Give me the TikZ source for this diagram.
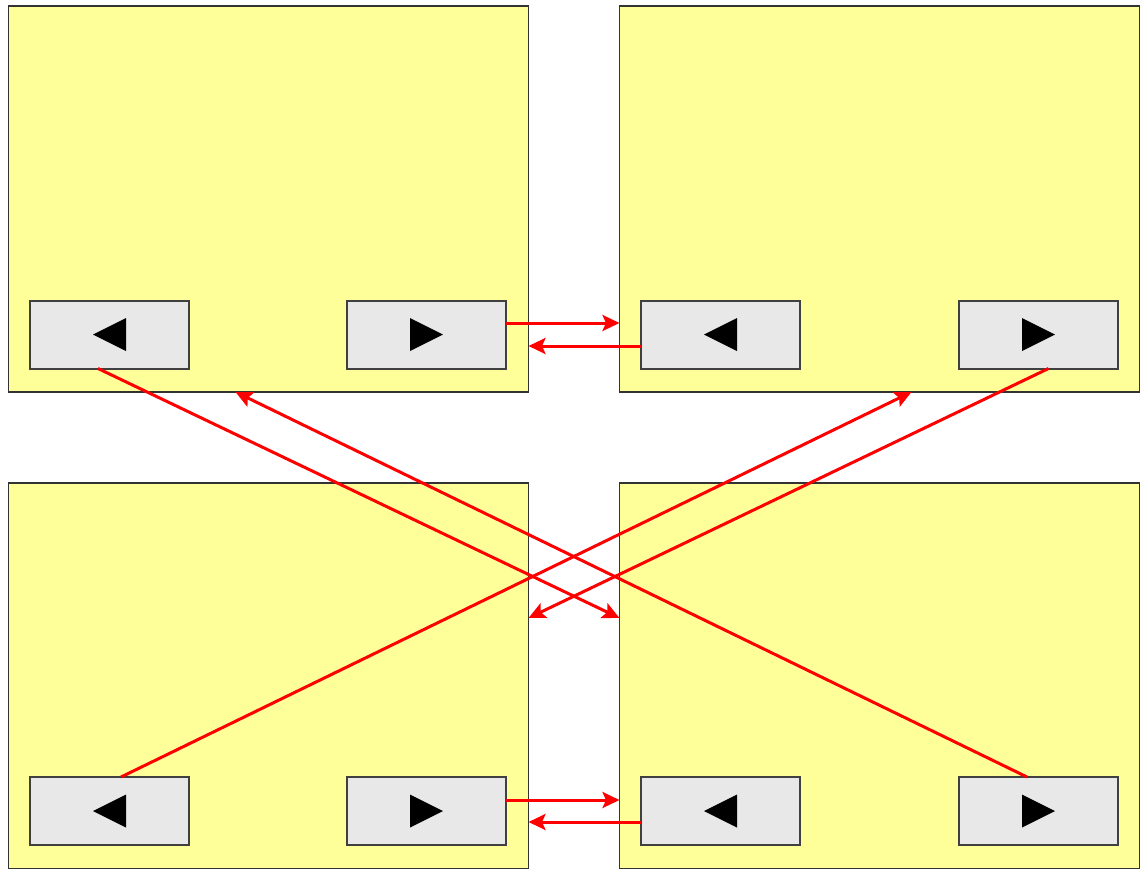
\documentclass[tikz,border=0pt]{standalone}
\usetikzlibrary{arrows.meta}
\begin{document}
\begin{tikzpicture}[x=1pt,y=-1pt,
  panel/.style={draw=black!80,line width=1.7pt,fill={rgb,255:red,255;green,255;blue,153},
    minimum width=520pt,minimum height=386pt,inner sep=0pt,outer sep=0pt},
  navbtn/.style={draw=black!75,line width=2pt,fill={rgb,255:red,232;green,232;blue,232},
    minimum width=159pt,minimum height=68pt,inner sep=0pt,outer sep=0pt},
  link/.style={draw=red,line width=3pt,-{Stealth[length=17pt,width=16pt,inset=3.5pt]}}]
  \useasboundingbox (0,0) rectangle (1140,868);
  \fill[white] (0,0) rectangle (1140,868);

  % four screens
  \node[panel] (tlP) at (268.5,199) {};
  \node[panel] (trP) at (879.5,199) {};
  \node[panel] (blP) at (268.5,676) {};
  \node[panel] (brP) at (879.5,676) {};

  % previous / next buttons
  \node[navbtn] (tlL) at (109.5,334.5) {};
  \node[navbtn] (tlR) at (426.5,334.5) {};
  \node[navbtn] (trL) at (720.5,334.5) {};
  \node[navbtn] (trR) at (1038.5,334.5) {};
  \node[navbtn] (blL) at (109.5,811) {};
  \node[navbtn] (blR) at (426.5,811) {};
  \node[navbtn] (brL) at (720.5,811) {};
  \node[navbtn] (brR) at (1038.5,811) {};

  % button glyphs
  \foreach \b in {tlL,trL,blL,brL}
    \fill[black] ([xshift=-16.5pt]\b.center) -- ([xshift=16.5pt,yshift=16.5pt]\b.center)
      -- ([xshift=16.5pt,yshift=-16.5pt]\b.center) -- cycle;
  \foreach \b in {tlR,trR,blR,brR}
    \fill[black] ([xshift=16.5pt]\b.center) -- ([xshift=-16.5pt,yshift=16.5pt]\b.center)
      -- ([xshift=-16.5pt,yshift=-16.5pt]\b.center) -- cycle;

  % horizontal links, top row
  \coordinate (t1) at ([yshift=11.5pt]tlR.east);
  \coordinate (t2) at ([yshift=-11.5pt]trL.west);
  \draw[link] (t1) -- (t1 -| trP.west);
  \draw[link] (t2) -- (t2 -| tlP.east);

  % horizontal links, bottom row
  \coordinate (b1) at ([yshift=11pt]blR.east);
  \coordinate (b2) at ([yshift=-11pt]brL.west);
  \draw[link] (b1) -- (b1 -| brP.west);
  \draw[link] (b2) -- (b2 -| blP.east);

  % diagonal links
  \coordinate (d1s) at ([xshift=-11.5pt]tlL.south);
  \coordinate (d1e) at ([yshift=58pt]brP.west);
  \draw[link] (d1s) -- (d1e);

  \coordinate (d2s) at ([xshift=-11.5pt]brR.north);
  \coordinate (d2e) at ([xshift=-33pt]tlP.south);
  \draw[link] (d2s) -- (d2e);

  \coordinate (d3s) at ([xshift=11.5pt]blL.north);
  \coordinate (d3e) at ([xshift=32pt]trP.south);
  \draw[link] (d3s) -- (d3e);

  \coordinate (d4s) at ([xshift=10pt]trR.south);
  \coordinate (d4e) at ([yshift=58pt]blP.east);
  \draw[link] (d4s) -- (d4e);
\end{tikzpicture}
\end{document}
